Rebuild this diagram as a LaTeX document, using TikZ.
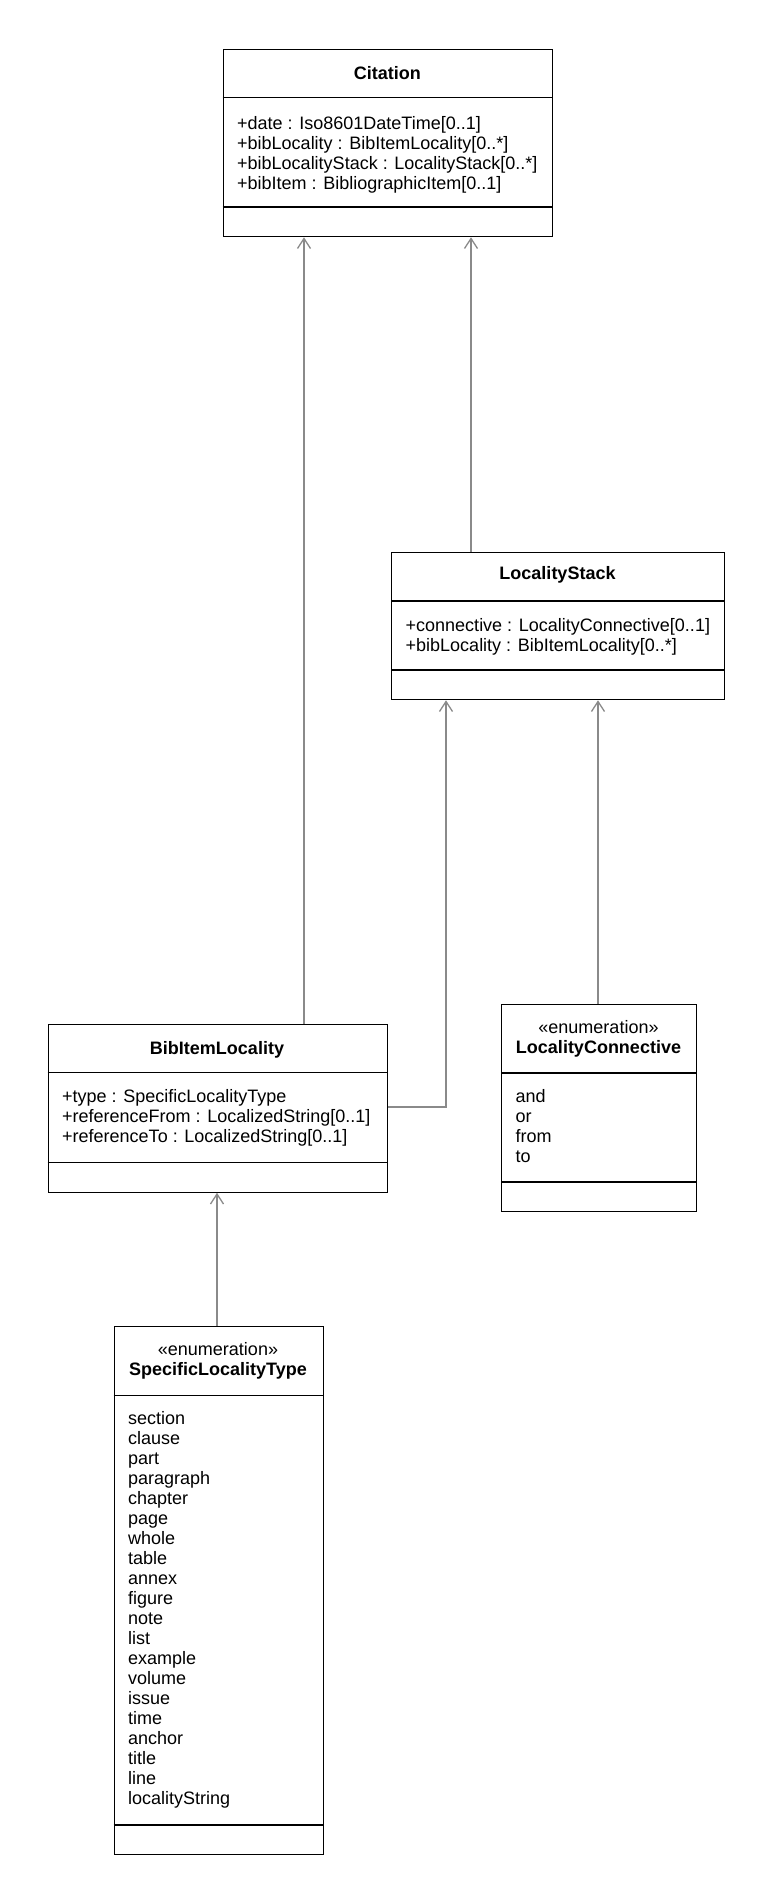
\documentclass[tikz,border=0pt]{standalone}
\usepackage{fontspec}
\setmainfont{Liberation Sans}
\usetikzlibrary{arrows.meta}
\definecolor{conn}{HTML}{8A8A8A}
\tikzset{
  box/.style={draw=black, line width=1.3bp, fill=white, inner sep=0pt, anchor=north west, rectangle},
  sep/.style={draw=black, line width=1.3bp},
  txt/.style={inner sep=0pt, anchor=base west, font=\fontsize{18bp}{20bp}\selectfont},
  ttl/.style={inner sep=0pt, anchor=base, font=\fontsize{18bp}{20bp}\selectfont\bfseries},
  ster/.style={inner sep=0pt, anchor=base, font=\fontsize{18bp}{20bp}\selectfont},
  assoc/.style={draw=conn, line width=1.25bp, -{Straight Barb[length=10bp,width=13bp,line width=1.3bp]}},
}
\begin{document}
\begin{tikzpicture}[x=1bp,y=-1bp]
\useasboundingbox (0,0) rectangle (772,1902);
% ---------- Citation
\node[box, minimum width=329.5bp, minimum height=187.5bp] (cit) at (222.5,48.5) {};
\draw[sep] (222.5,97.5) -- (552,97.5);
\draw[sep] (222.5,207) -- (552,207);
\node[ttl] (citT) at (387.25,79) {Citation};
\node[txt] (citA1) at (237,129) {+date : Iso8601DateTime[0..1]};
\node[txt] (citA2) at (237,149) {+bibLocality : BibItemLocality[0..*]};
\node[txt] (citA3) at (237,169) {+bibLocalityStack : LocalityStack[0..*]};
\node[txt] (citA4) at (237,189) {+bibItem : BibliographicItem[0..1]};
% ---------- LocalityStack
\node[box, minimum width=333bp, minimum height=147bp] (stk) at (391,552) {};
\draw[sep] (391,601) -- (724,601);
\draw[sep] (391,670) -- (724,670);
\node[ttl] (stkT) at (557.5,579.5) {LocalityStack};
\node[txt] (stkA1) at (405.5,631) {+connective : LocalityConnective[0..1]};
\node[txt] (stkA2) at (405.5,651) {+bibLocality : BibItemLocality[0..*]};
% ---------- BibItemLocality
\node[box, minimum width=339bp, minimum height=168bp] (bil) at (47.5,1023.5) {};
\draw[sep] (47.5,1072.5) -- (386.5,1072.5);
\draw[sep] (47.5,1162.5) -- (386.5,1162.5);
\node[ttl] (bilT) at (217,1054) {BibItemLocality};
\node[txt] (bilA1) at (62,1102) {+type : SpecificLocalityType};
\node[txt] (bilA2) at (62,1122) {+referenceFrom : LocalizedString[0..1]};
\node[txt] (bilA3) at (62,1142) {+referenceTo : LocalizedString[0..1]};
% ---------- LocalityConnective
\node[box, minimum width=195bp, minimum height=207.5bp] (lc) at (501,1003.5) {};
\draw[sep] (501,1073) -- (696,1073);
\draw[sep] (501,1182) -- (696,1182);
\node[ster] (lcS) at (598.5,1033) {«enumeration»};
\node[ttl] (lcT) at (598.5,1053) {LocalityConnective};
\node[txt] (lcA1) at (515.5,1102.5) {and};
\node[txt] (lcA2) at (515.5,1122.5) {or};
\node[txt] (lcA3) at (515.5,1142.5) {from};
\node[txt] (lcA4) at (515.5,1162.5) {to};
% ---------- SpecificLocalityType
\node[box, minimum width=209bp, minimum height=528bp] (slt) at (113.5,1326) {};
\draw[sep] (113.5,1395.5) -- (322.5,1395.5);
\draw[sep] (113.5,1825) -- (322.5,1825);
\node[ster] (sltS) at (218,1355.5) {«enumeration»};
\node[ttl] (sltT) at (218,1375.5) {SpecificLocalityType};
\foreach \w [count=\i from 0] in {section,clause,part,paragraph,chapter,page,whole,table,annex,figure,note,list,example,volume,issue,time,anchor,title,line,localityString}{
  \node[txt] (sltA\i) at (128,1424.5+20*\i) {\w};
}
% ---------- connectors
\draw[assoc] (bil.north -| 304,0) -- (cit.south -| 304,0);
\draw[assoc] (stk.north -| 471,0) -- (cit.south -| 471,0);
\coordinate (bend) at (446,1107);
\draw[assoc] (bil.east |- bend) -- (bend) -- (stk.south -| bend);
\draw[assoc] (lc.north -| 598,0) -- (stk.south -| 598,0);
\draw[assoc] (slt.north -| 217,0) -- (bil.south -| 217,0);
\end{tikzpicture}
\end{document}
